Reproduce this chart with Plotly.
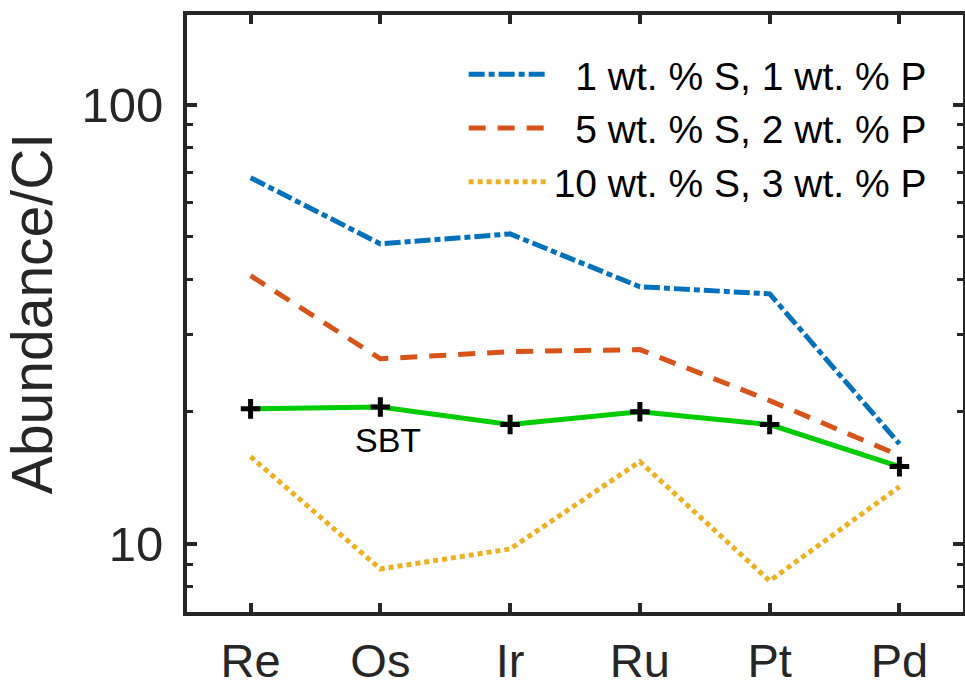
import math
import plotly.graph_objects as go

elements = ["Re", "Os", "Ir", "Ru", "Pt", "Pd"]
s1_p1 = [68.2, 48.2, 50.8, 38.5, 37.1, 16.9]
s5_p2 = [40.8, 26.4, 27.4, 27.7, 21.2, 15.9]
s10_p3 = [15.8, 8.77, 9.74, 15.4, 8.24, 13.5]
sbt = [20.3, 20.5, 18.7, 20.0, 18.7, 15.0]

names = ["\u20071 wt. % S, 1 wt. % P", "\u20075 wt. % S, 2 wt. % P", "10 wt. % S, 3 wt. % P"]
colors = ["#0072BD", "#D95319", "#EDB120"]
dashes = ["16px,4px,6px,4px", "17px,12px", "5px,4px"]

FONT = "Liberation Sans, Arial, Helvetica, sans-serif"
AX = "#262626"
x = list(range(len(elements)))

fig = go.Figure()
for vals, nm, c, d in zip([s1_p1, s5_p2, s10_p3], names, colors, dashes):
    fig.add_trace(go.Scatter(x=x, y=vals, mode="lines", name=nm,
                             line=dict(color=c, width=5, dash=d)))
fig.add_trace(go.Scatter(x=x, y=sbt, mode="lines+markers", name="SBT", showlegend=False,
                         line=dict(color="#00CC00", width=5),
                         marker=dict(symbol="cross-thin", size=14, color="black",
                                     line=dict(color="black", width=5))))

fig.add_annotation(x=1.06, y=math.log10(17.2), xref="x", yref="y", text="SBT",
                   showarrow=False, font=dict(family=FONT, size=34, color="black"))

fig.update_layout(
    width=965, height=687,
    margin=dict(l=187, r=2, t=15, b=75),
    paper_bgcolor="white", plot_bgcolor="white",
    font=dict(family=FONT, color=AX),
    showlegend=True,
    legend=dict(x=0.9596, y=0.954, xanchor="right", yanchor="top",
                bgcolor="rgba(0,0,0,0)", borderwidth=0,
                font=dict(family=FONT, size=39, color="black"),
                itemwidth=80, tracegroupgap=0),
)
fig.update_xaxes(
    range=[-0.49, 5.49], tickmode="array", tickvals=x, ticktext=elements,
    showgrid=False, zeroline=False, automargin=False,
    showline=True, linewidth=4, linecolor=AX, mirror="allticks",
    ticks="inside", ticklen=9, tickwidth=4, tickcolor=AX,
    tickfont=dict(family=FONT, size=47, color=AX), ticklabelstandoff=5,
)
fig.update_yaxes(
    type="log", range=[math.log10(7.0), math.log10(160)],
    tickmode="linear", tick0=0, dtick=1,
    showgrid=False, zeroline=False, automargin=False,
    showline=True, linewidth=4, linecolor=AX, mirror="allticks",
    ticks="inside", ticklen=10, tickwidth=4, tickcolor=AX,
    minor=dict(ticks="inside", dtick="D1", ticklen=6, tickwidth=3, tickcolor=AX, showgrid=False),
    tickfont=dict(family=FONT, size=49, color=AX), ticklabelstandoff=10,
    title=dict(text="Abundance/CI", font=dict(family=FONT, size=57, color=AX), standoff=16),
)
fig.write_html("out.html")
